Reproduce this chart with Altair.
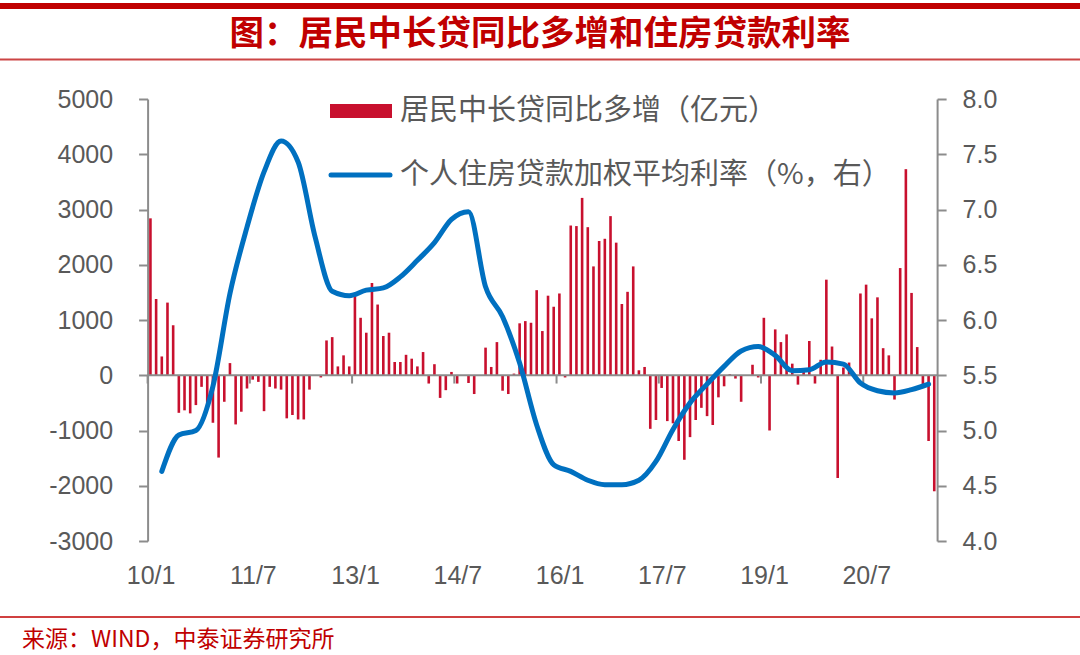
import altair as alt
import pandas as pd

# ---------------- data ----------------
# 居民中长贷同比多增（亿元），月度 2010/1 - 2021/7
loan_diff = [
    2840, 1380, 340, 1315, 905, -680, -635, -690, -540, -210,
    -570, -860, -1490, -480, 220, -890, -660, -240, -80, -120,
    -650, -210, -240, -260, -780, -720, -800, -800, -260, 0,
    -40, 630, 690, 160, 360, 160, 1450, 1040, 770, 1670,
    1280, 710, 770, 240, 240, 370, 300, 160, 420, -150,
    200, -410, -270, 60, -150, 0, -140, -340, 0, 500,
    150, 600, -280, -340, 30, 940, 980, 950, 1540, 800,
    1440, 1240, 1480, -40, 2710, 2700, 3210, 2680, 1970, 2430,
    2470, 2880, 2400, 1290, 1510, 1970, 90, 150, -970, -810,
    -230, -830, -870, -1190, -1530, -1120, -810, -590, -740, -900,
    -400, -200, 20, -60, -480, 0, 190, -40, 1040, -1000,
    830, 600, 740, 210, -170, 120, 620, -150, 280, 1730,
    520, -1860, 140, 230, 0, 1480, 1640, 1030, 1410, 490,
    360, -440, 1940, 3730, 1490, 510, -160, -1190, -2100,
]

# 个人住房贷款加权平均利率（%），季度 2010Q1 - 2021Q2
rate = [
    4.63, 4.96, 5.00, 5.40, 6.24, 6.84, 7.34, 7.62, 7.43, 6.75,
    6.26, 6.22, 6.27, 6.29, 6.39, 6.54, 6.70, 6.91, 6.98, 6.30,
    6.03, 5.61, 5.05, 4.69, 4.63, 4.55, 4.51, 4.51, 4.55, 4.72,
    5.01, 5.25, 5.42, 5.58, 5.72, 5.76, 5.68, 5.54, 5.55, 5.62,
    5.60, 5.43, 5.36, 5.34, 5.37, 5.42,
]

tick_pos = [0, 18, 36, 54, 72, 90, 108, 126]
tick_labels = ["10/1", "11/7", "13/1", "14/7", "16/1", "17/7", "19/1", "20/7"]
left_ticks = [-3000, -2000, -1000, 0, 1000, 2000, 3000, 4000, 5000]
right_ticks = [4.0, 4.5, 5.0, 5.5, 6.0, 6.5, 7.0, 7.5, 8.0]

title_text = "图：居民中长贷同比多增和住房贷款利率"
legend_bar = "居民中长贷同比多增（亿元）"
legend_line = "个人住房贷款加权平均利率（%，右）"
source_text = "来源：WIND，中泰证券研究所"

# ---------------- layout ----------------
W, H = 1080, 655
PL, PT = 147.6, 99
PW, PH = 789.5, 442
PR = W - PL - PW
PB = H - PT - PH

RED = "#C8102E"
DARKRED = "#C00000"
BLUE = "#0070C0"
GREY = "#8C8C8C"
TXT = "#595959"
CJK = "Noto Sans CJK SC"
LAT = "Liberation Sans"

n_months = len(loan_diff)
bars_df = pd.DataFrame({
    "m": [i + 0.5 for i in range(n_months)],
    "v": loan_diff,
    "z": [0] * n_months,
})
rate_df = pd.DataFrame({
    "m": [2.5 + 3 * k for k in range(len(rate))],
    "r": rate,
})
xt_df = pd.DataFrame({"m": tick_pos, "v": [0] * len(tick_pos), "z": [-150] * len(tick_pos)})

xs = alt.Scale(domain=[0, n_months], nice=False, zero=False)
ysl = alt.Scale(domain=[-3000, 5000], nice=False)
ysr = alt.Scale(domain=[4.0, 8.0], nice=False, zero=False)

pos_str = "[" + ",".join(str(p) for p in tick_pos) + "]"
lab_str = "[" + ",".join("'" + s + "'" for s in tick_labels) + "]"

x_axis = alt.Axis(
    values=tick_pos, labelExpr=f"{lab_str}[indexof({pos_str}, datum.value)]",
    domain=False, ticks=False, grid=False, title=None, labelPadding=22,
    labelFont=LAT, labelFontSize=25, labelColor=TXT, labelFlush=False,
    labelOverlap=False, labelOffset=3, labelBaseline="top",
)
yl_axis = alt.Axis(
    orient="left", values=left_ticks, labelExpr="'' + datum.value",
    grid=False, title=None, domainColor=GREY, domainWidth=2,
    tickColor=GREY, tickWidth=2, tickSize=9, labelPadding=26,
    labelFont=LAT, labelFontSize=25, labelColor=TXT,
)
yr_axis = alt.Axis(
    orient="right", values=right_ticks, format=".1f",
    grid=False, title=None, domainColor=GREY, domainWidth=2,
    tickColor=GREY, tickWidth=2, tickSize=9, labelPadding=16,
    labelFont=LAT, labelFontSize=25, labelColor=TXT,
)

X = alt.X("m:Q", scale=xs, axis=x_axis)
YL = alt.Y("v:Q", scale=ysl, axis=yl_axis)

bars = alt.Chart(bars_df).mark_rule(color=RED, strokeWidth=2.6).encode(
    x=X, y=YL, y2="z:Q",
)
zero = alt.Chart(pd.DataFrame({"v": [0]})).mark_rule(color=GREY, strokeWidth=2).encode(
    y=YL,
)
xticks = alt.Chart(xt_df).mark_rule(color=GREY, strokeWidth=2).encode(
    x=X, y=YL, y2="z:Q",
)
left = alt.layer(bars, zero, xticks)

line = alt.Chart(rate_df).mark_line(
    color=BLUE, strokeWidth=5, interpolate="monotone", strokeCap="round", strokeJoin="round"
).encode(
    x=X,
    y=alt.Y("r:Q", scale=ysr, axis=yr_axis),
)

one = pd.DataFrame({"a": [0]})

def txt(s, x, y, size, color, weight="normal", align="left", font=CJK):
    return alt.Chart(pd.DataFrame({"t": [s]})).mark_text(
        align=align, baseline="middle", fontSize=size, color=color,
        font=font, fontWeight=weight,
    ).encode(text="t:N", x=alt.value(x - PL), y=alt.value(y - PT))

def hline(x1, x2, y, w, color, cap="butt"):
    return alt.Chart(one).mark_rule(color=color, strokeWidth=w, strokeCap=cap).encode(
        x=alt.value(x1 - PL), x2=alt.value(x2 - PL), y=alt.value(y - PT)
    )

leg_rect = alt.Chart(one).mark_rect(color=RED).encode(
    x=alt.value(330 - PL), x2=alt.value(392 - PL),
    y=alt.value(104 - PT), y2=alt.value(118 - PT),
)
leg_line = hline(331, 390, 175, 5, BLUE, cap="round")

deco = [
    hline(0, W, 6, 6, DARKRED),
    hline(0, W, 59.5, 2, "#CC4444"),
    hline(0, W, 617, 1.5, DARKRED),
    txt(title_text, 540, 35, 34.5, DARKRED, weight="bold", align="center"),
    leg_rect,
    txt(legend_bar, 400, 111, 29, TXT),
    leg_line,
    txt(legend_line, 400, 175, 29, TXT),
    txt(source_text, 22, 640, 23, DARKRED),
]

chart = alt.layer(left, line, *deco).resolve_scale(y="independent").properties(
    width=PW, height=PH,
    autosize=alt.AutoSizeParams(type="none"),
    padding={"left": PL, "top": PT, "right": PR, "bottom": PB},
    background="white",
).configure_view(stroke=None)

chart.save("out.html", embed_options={"renderer": "svg", "actions": False})
